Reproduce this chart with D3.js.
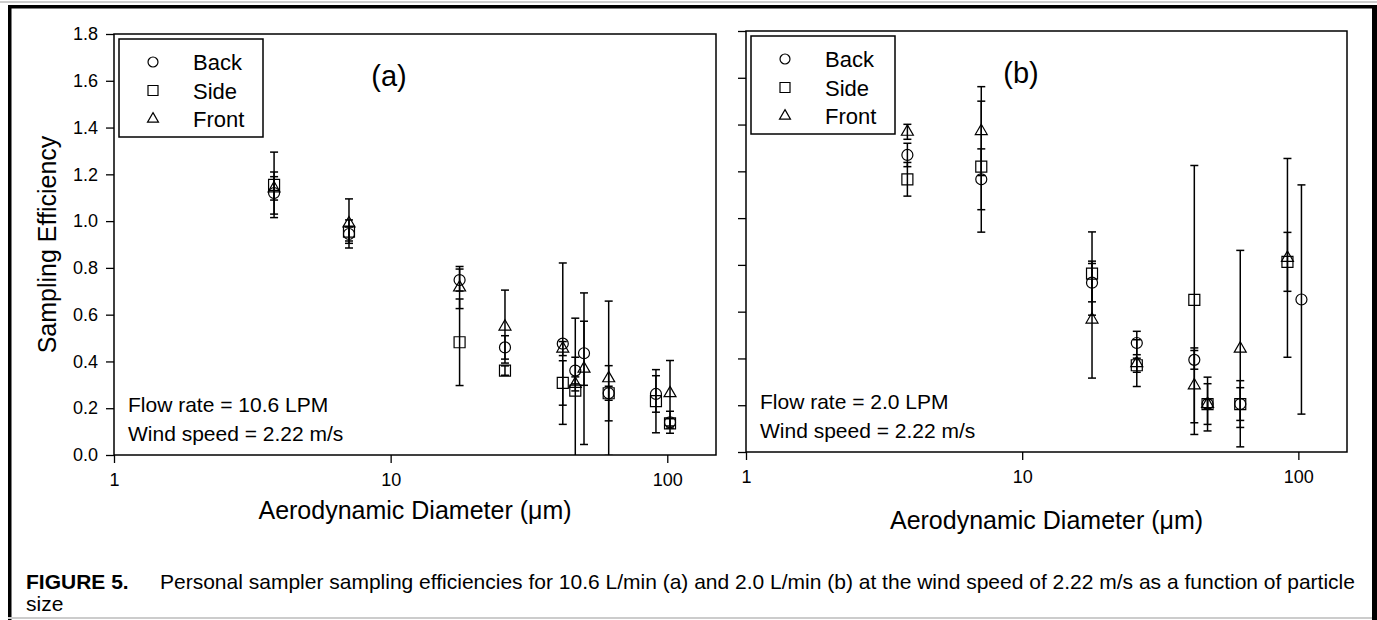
<!DOCTYPE html>
<html>
<head>
<meta charset="UTF-8">
<title>Sampling efficiency vs aerodynamic diameter</title>
<script src="https://d3js.org/d3.v7.min.js"></script>
<style>
  body { margin: 0; background: #fff; }
  text { font-family: "Liberation Sans", Arial, sans-serif; fill: #000; }
</style>
</head>
<body>
<svg id="fig" width="1377" height="620"></svg>
<script>
// ---- data (a): 10.6 LPM ----
const diamA     = [3.79, 7.07, 17.75, 25.9, 41.9, 46.5, 50.0, 61.4, 91.0, 102.3];
const backA     = [1.12, 0.945, 0.748, 0.460, 0.476, 0.361, 0.435, 0.264, 0.261, 0.140];
const backErrA  = [0.09, 0.03, 0.047, 0.05, 0.345, 0.057, 0.137, 0.118, 0.078, 0.047];
const sideA     = [1.155, 0.955, 0.482, 0.361, 0.308, 0.275, null, 0.264, 0.230, 0.135];
const sideErrA  = [0.14, 0.05, 0.185, 0.02, 0.095, 0.31, null, 0.03, 0.135, 0.02];
const frontA    = [1.14, 0.99, 0.716, 0.549, 0.455, 0.304, 0.369, 0.328, null, 0.264];
const frontErrA = [0.05, 0.105, 0.09, 0.156, 0.03, 0.03, 0.324, 0.33, null, 0.14];

// ---- data (b): 2.0 LPM ----
const diamB     = [3.84, 7.11, 17.9, 26.0, 42.0, 46.9, 61.6, 91.3, 102.6];
const backB     = [1.27, 1.166, 0.724, 0.466, 0.394, 0.205, 0.205, null, 0.652];
const backErrB  = [0.05, 0.13, 0.082, 0.05, 0.04, 0.115, 0.10, null, 0.49];
const sideB     = [1.166, 1.22, 0.763, 0.371, 0.65, 0.205, 0.205, 0.813, null];
const sideErrB  = [0.072, 0.28, 0.178, 0.03, 0.575, 0.087, 0.07, 0.126, null];
const frontB    = [1.369, 1.372, 0.566, 0.38, 0.285, 0.205, 0.442, 0.83, null];
const frontErrB = [0.032, 0.19, 0.25, 0.10, 0.16, 0.02, 0.42, 0.425, null];

const seriesNames = ["Back", "Side", "Front"];
const yTicks = [0, 0.2, 0.4, 0.6, 0.8, 1.0, 1.2, 1.4, 1.6, 1.8];
const xTicks = [1, 10, 100];

const svg = d3.select("#fig");

// outer frame
svg.append("line").attr("x1", 0).attr("x2", 1377).attr("y1", 2).attr("y2", 2).attr("stroke", "#ccc").attr("stroke-width", 2);
svg.append("rect").attr("x", 8).attr("y", 5).attr("width", 1369).attr("height", 3.5).attr("fill", "#000");
svg.append("rect").attr("x", 8).attr("y", 5).attr("width", 3.5).attr("height", 615).attr("fill", "#000");
svg.append("rect").attr("x", 1372).attr("y", 5).attr("width", 5).attr("height", 615).attr("fill", "#000");
svg.append("line").attr("x1", 8).attr("x2", 1372).attr("y1", 618).attr("y2", 618).attr("stroke", "#ccc").attr("stroke-width", 2);

const symbolFor = {
  Back: d3.symbol().type(d3.symbolCircle).size(Math.PI * 5.5 * 5.5),
  Side: d3.symbol().type(d3.symbolSquare).size(11 * 11),
  Front: d3.symbol().type(d3.symbolTriangle).size(62)
};

function drawPanel(p) {
  const x = d3.scaleLog().domain([1, 150]).range([p.left, p.right]);
  const y = d3.scaleLinear().domain([0, 1.8]).range([p.bottom, p.top]);
  const g = svg.append("g");

  const clipId = "clip-" + p.id;
  svg.append("clipPath").attr("id", clipId).append("rect")
    .attr("x", p.left).attr("y", p.top)
    .attr("width", p.right - p.left).attr("height", p.bottom - p.top);

  // frame
  g.append("rect").attr("x", p.left).attr("y", p.top)
    .attr("width", p.right - p.left).attr("height", p.bottom - p.top)
    .attr("fill", "none").attr("stroke", "#000").attr("stroke-width", 1.5);

  // axes
  const ya = d3.axisLeft(y).tickValues(yTicks).tickSize(8).tickPadding(8)
    .tickFormat(p.yLabels ? d3.format(".1f") : "");
  const yg = g.append("g").attr("transform", `translate(${p.left},0)`).call(ya);
  const xa = d3.axisBottom(x).tickValues(xTicks).tickSize(8).tickPadding(10)
    .tickFormat(d3.format("d"));
  const xg = g.append("g").attr("transform", `translate(0,${p.bottom})`).call(xa);
  [yg, xg].forEach(a => {
    a.select(".domain").remove();
    a.selectAll(".tick line").attr("stroke", "#000").attr("stroke-width", 1.3);
    a.selectAll(".tick text").style("font-size", "18px").attr("fill", "#000");
  });

  // data
  const series = [
    { name: "Back", v: p.back, e: p.backErr },
    { name: "Side", v: p.side, e: p.sideErr },
    { name: "Front", v: p.front, e: p.frontErr }
  ];
  const marks = g.append("g").attr("clip-path", `url(#${clipId})`);
  series.forEach(s => {
    const pts = p.diam.map((d, i) => ({ d, v: s.v[i], e: s.e[i] })).filter(o => o.v != null);
    const eg = marks.append("g").attr("stroke", "#000").attr("stroke-width", 1.5);
    pts.forEach(o => {
      const cx = x(o.d);
      eg.append("line").attr("x1", cx).attr("x2", cx).attr("y1", y(o.v + o.e)).attr("y2", y(o.v - o.e));
      eg.append("line").attr("x1", cx - 4).attr("x2", cx + 4).attr("y1", y(o.v + o.e)).attr("y2", y(o.v + o.e));
      eg.append("line").attr("x1", cx - 4).attr("x2", cx + 4).attr("y1", y(o.v - o.e)).attr("y2", y(o.v - o.e));
    });
  });
  series.forEach(s => {
    const pts = p.diam.map((d, i) => ({ d, v: s.v[i] })).filter(o => o.v != null);
    marks.append("g").selectAll("path").data(pts).join("path")
      .attr("d", symbolFor[s.name])
      .attr("transform", o => `translate(${x(o.d)},${y(o.v)})`)
      .attr("fill", "none").attr("stroke", "#000").attr("stroke-width", 1.2);
  });

  // legend
  const lx = p.left + 5, ly = p.top + 5;
  g.append("rect").attr("x", lx).attr("y", ly).attr("width", 144).attr("height", 98)
    .attr("fill", "#fff").attr("stroke", "#000").attr("stroke-width", 1.5);
  seriesNames.forEach((n, i) => {
    const cy = ly + 23 + i * 28.5;
    g.append("path").attr("d", d3.symbol().type(
        n === "Back" ? d3.symbolCircle : n === "Side" ? d3.symbolSquare : d3.symbolTriangle)
        .size(n === "Back" ? 78 : n === "Side" ? 100 : 52)())
      .attr("transform", `translate(${lx + 34},${cy})`)
      .attr("fill", "none").attr("stroke", "#000").attr("stroke-width", 1.2);
    g.append("text").attr("x", lx + 74).attr("y", cy + 8).style("font-size", "22px").text(n);
  });

  // panel tag and conditions
  g.append("text").attr("x", p.left + 275).attr("y", p.top + 52).attr("text-anchor", "middle")
    .style("font-size", "29px").text(p.tag);
  g.append("text").attr("x", p.left + 14).attr("y", p.bottom - 43).style("font-size", "21px").text(p.flow);
  g.append("text").attr("x", p.left + 14).attr("y", p.bottom - 14).style("font-size", "21px").text("Wind speed = 2.22 m/s");

  // axis titles
  const xt = g.append("text").attr("x", (p.left + p.right) / 2).attr("y", p.bottom + p.xTitleDy)
    .attr("text-anchor", "middle").style("font-size", "25px");
  xt.append("tspan").text("Aerodynamic Diameter (");
  xt.append("tspan").text("\u03bcm");
  xt.append("tspan").text(")");
  if (p.yLabels) {
    g.append("text").attr("transform", `translate(56,${(p.top + p.bottom) / 2}) rotate(-90)`)
      .attr("text-anchor", "middle").style("font-size", "25px").text("Sampling Efficiency");
  }
}

drawPanel({ id: "a", left: 114, right: 716, top: 34, bottom: 455, yLabels: true, tag: "(a)",
  flow: "Flow rate = 10.6 LPM", xTitleDy: 64,
  diam: diamA, back: backA, backErr: backErrA, side: sideA, sideErr: sideErrA, front: frontA, frontErr: frontErrA });
drawPanel({ id: "b", left: 746, right: 1347, top: 31, bottom: 452, yLabels: false, tag: "(b)",
  flow: "Flow rate = 2.0 LPM", xTitleDy: 77,
  diam: diamB, back: backB, backErr: backErrB, side: sideB, sideErr: sideErrB, front: frontB, frontErr: frontErrB });

// caption
const cap = svg.append("text").attr("x", 26).attr("y", 589).style("font-size", "21px");
cap.append("tspan").style("font-weight", "bold").text("FIGURE 5.");
cap.append("tspan").attr("x", 160).text("Personal sampler sampling efficiencies for 10.6 L/min (a) and 2.0 L/min (b) at the wind speed of 2.22 m/s as a function of particle");
svg.append("text").attr("x", 26).attr("y", 611).style("font-size", "21px").text("size");
</script>
</body>
</html>
